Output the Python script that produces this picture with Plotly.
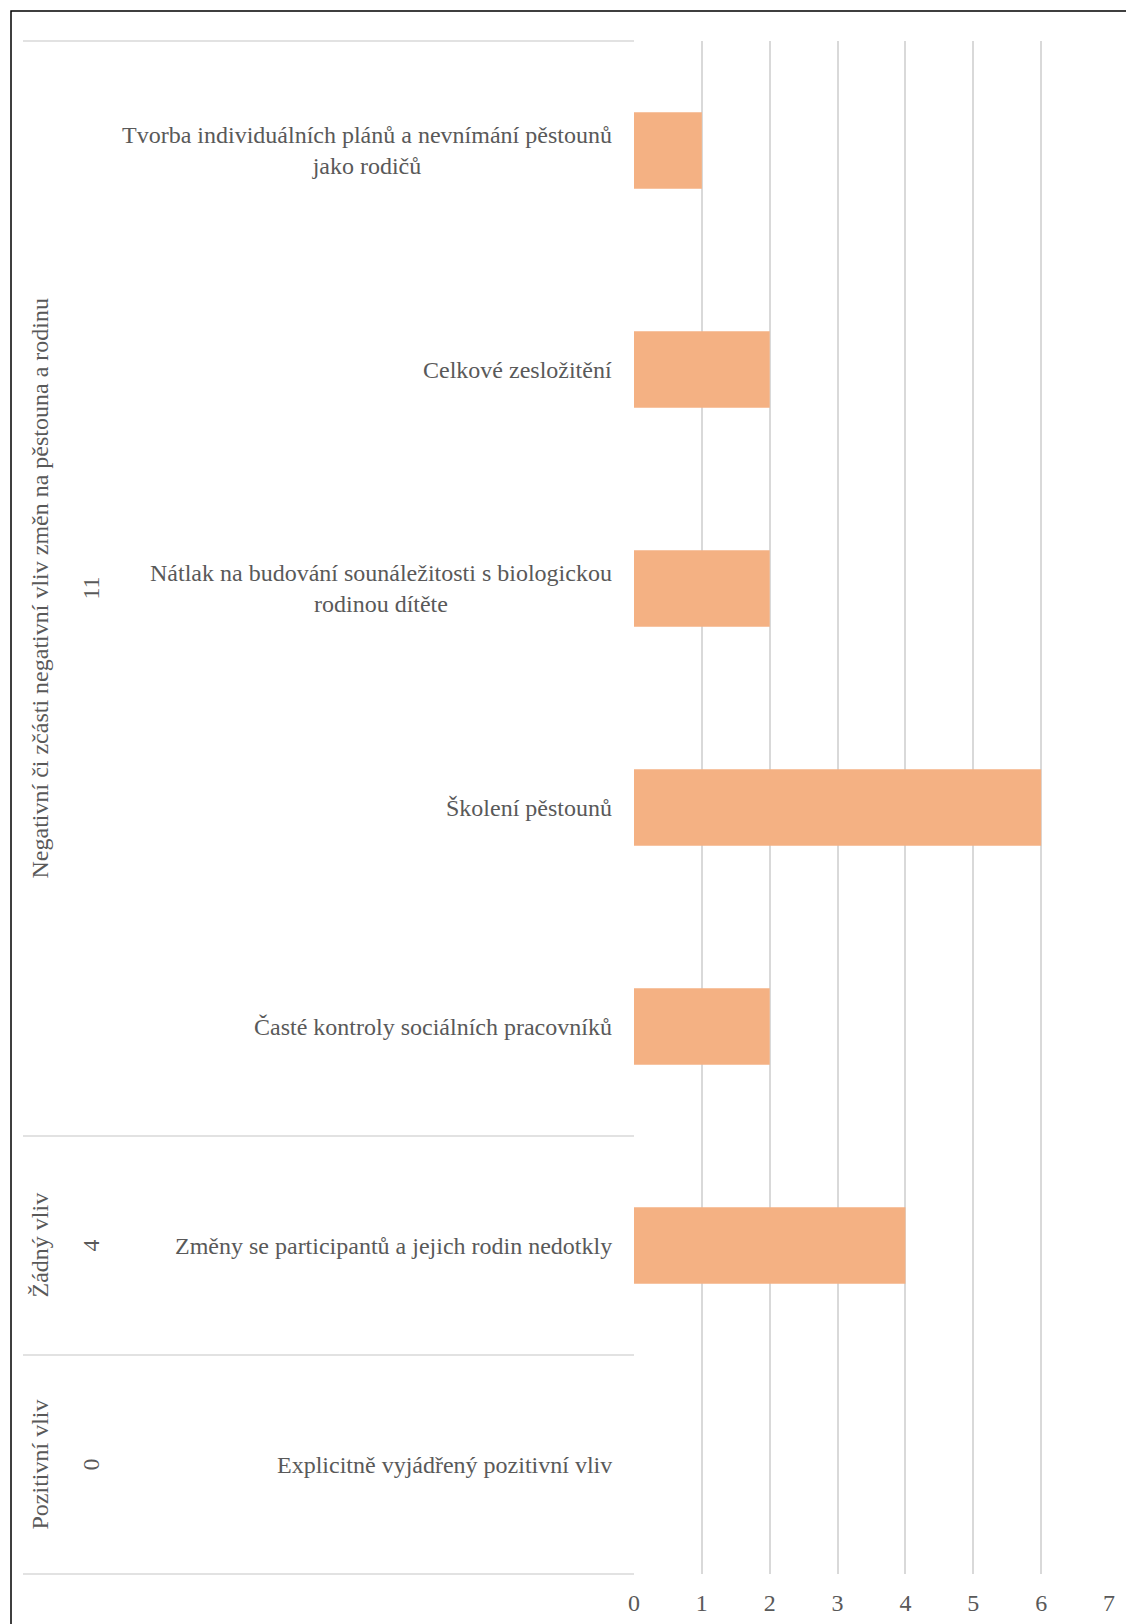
import plotly.graph_objects as go

categories = [
    "Tvorba individuálních plánů a nevnímání pěstounů<br>jako rodičů",
    "Celkové zesložitění",
    "Nátlak na budování sounáležitosti s biologickou<br>rodinou dítěte",
    "Školení pěstounů",
    "Časté kontroly sociálních pracovníků",
    "Změny se participantů a jejich rodin nedotkly",
    "Explicitně vyjádřený pozitivní vliv",
]
values = [1, 2, 2, 6, 2, 4, 0]
groups = [
    "Negativní či zčásti negativní vliv změn na pěstouna a rodinu",
    "Žádný vliv",
    "Pozitivní vliv",
]
group_counts = [11, 4, 0]
group_sizes = [5, 1, 1]
x_ticks = [0, 1, 2, 3, 4, 5, 6, 7]

# page body has an 8px margin; figure sized to fit the window
OFF = 8
W, H = 1134 - OFF, 1624 - OFF
ML, MT = 634 - OFF, 41 - OFF
MR = W - (1109 - OFF)
MB = H - (1574 - OFF)
PW = W - ML - MR
PH = H - MT - MB
FONT = "Liberation Serif"
GREY = "#595959"
LINE = "#D9D9D9"
FS = 24

def px_to_xpaper(px):
    return (px - OFF - ML) / PW

def py_to_ypaper(py):
    return (H - MB - (py - OFF)) / PH

fig = go.Figure(go.Bar(
    x=values, y=list(range(len(categories))), orientation="h",
    marker=dict(color="#F4B183", line=dict(width=0)),
    width=0.35, hoverinfo="skip",
))

n = len(categories)
annotations = []
for i, c in enumerate(categories):
    annotations.append(dict(
        x=0, xref="paper", y=i, yref="y", text=c, showarrow=False,
        xanchor="right", yanchor="middle", align="center", xshift=-20,
        font=dict(family=FONT, size=FS, color=GREY),
    ))

shapes = []
start = 0
shapes.append(dict(type="line", xref="paper", yref="paper",
                   x0=px_to_xpaper(23), x1=0, y0=1, y1=1,
                   line=dict(color=LINE, width=1.5)))
for g, cnt, size in zip(groups, group_counts, group_sizes):
    center = start + (size - 1) / 2
    annotations.append(dict(
        x=0, xref="paper", y=center, yref="y", text=g, showarrow=False,
        textangle=-90, xanchor="center", yanchor="middle", xshift=39 - 634,
        font=dict(family=FONT, size=FS, color=GREY),
    ))
    annotations.append(dict(
        x=0, xref="paper", y=center, yref="y", text=str(cnt), showarrow=False,
        textangle=-90, xanchor="center", yanchor="middle", xshift=90 - 634,
        font=dict(family=FONT, size=FS, color=GREY),
    ))
    start += size
    yb = 1 - start / n
    shapes.append(dict(type="line", xref="paper", yref="paper",
                       x0=px_to_xpaper(23), x1=0, y0=yb, y1=yb,
                       line=dict(color=LINE, width=1.5)))

# outer border (cut off at right and bottom)
shapes.append(dict(type="rect", xref="paper", yref="paper",
                   x0=px_to_xpaper(11), x1=px_to_xpaper(1150),
                   y0=py_to_ypaper(1650), y1=py_to_ypaper(11),
                   line=dict(color="#000000", width=1.5), fillcolor="rgba(0,0,0,0)",
                   layer="above"))

fig.update_layout(
    width=W, height=H,
    margin=dict(l=ML, r=MR, t=MT, b=MB, autoexpand=False),
    paper_bgcolor="white", plot_bgcolor="white",
    showlegend=False,
    xaxis=dict(range=[0, 7], tickvals=x_ticks, ticktext=[str(t) for t in x_ticks],
               showgrid=True, gridcolor=LINE, gridwidth=1.5, zeroline=False,
               showline=False, ticks="", ticklen=0, ticklabelstandoff=12,
               tickfont=dict(family=FONT, size=FS, color=GREY)),
    yaxis=dict(range=[n - 0.5, -0.5], showticklabels=False, showgrid=False,
               zeroline=False, showline=False, ticks=""),
    annotations=annotations,
    shapes=shapes,
)

fig.write_html("out.html")
